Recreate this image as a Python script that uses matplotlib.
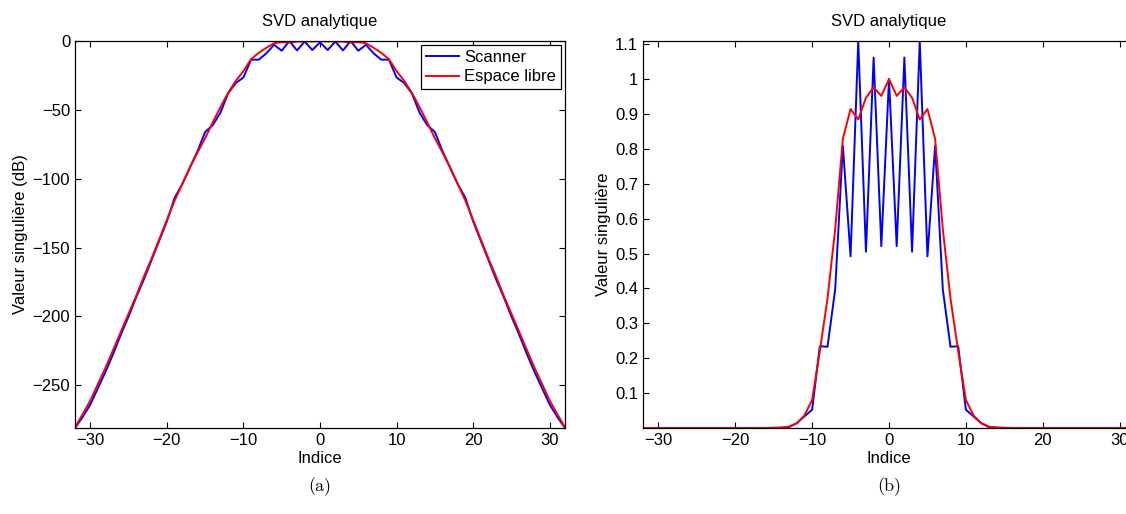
import matplotlib
matplotlib.use("Agg")
import matplotlib.pyplot as plt
import numpy as np

plt.rcParams['font.family'] = ['Liberation Sans', 'DejaVu Sans']
plt.rcParams['font.size'] = 12

# indices of the singular values
indices = list(range(-32, 33))

# Scanner, in dB (normalised to its own maximum)
scanner_db = [
    -281, -273, -264, -252, -240, -227, -213, -200, -186, -173, -159,
    -145, -131, -114, -104, -92, -80, -66, -61, -52, -38, -30.5,
    -26.5, -13.5, -13.56, -8.92, -2.74, -7.06, 0.0, -6.83, -0.38, -6.56,
    -0.90,
    -6.56, -0.38, -6.83, 0.0, -7.06, -2.74, -8.92, -13.56, -13.5, -26.5,
    -30.5, -38, -52, -61, -66, -80, -92, -104, -114, -131, -145,
    -159, -173, -186, -200, -213, -227, -240, -252, -264, -273, -281,
]

# Espace libre, in dB
libre_db = [
    -280.5, -271, -261, -249, -237, -224, -211, -198, -185, -171, -158,
    -144, -130, -116, -104, -92, -81, -70.5, -59, -48, -37.6, -28.9,
    -21.9, -13.15, -8.61, -4.88, -1.63, -0.78, -1.07, -0.48, -0.21, -0.43,
    0.0,
    -0.43, -0.21, -0.48, -1.07, -0.78, -1.63, -4.88, -8.61, -13.15, -21.9,
    -28.9, -37.6, -48, -59, -70.5, -81, -92, -104, -116, -130, -144,
    -158, -171, -185, -198, -211, -224, -237, -249, -261, -271, -280.5,
]

# peak of the linear singular values
scanner_peak = 1.109
libre_peak = 1.0

scanner_lin = scanner_peak * 10 ** (np.array(scanner_db) / 20.0)
libre_lin = libre_peak * 10 ** (np.array(libre_db) / 20.0)

fig = plt.figure(figsize=(11.26, 5.14), dpi=100)
ax1 = fig.add_axes([75 / 1126, 1 - 428 / 514, 490 / 1126, 387 / 514])
ax2 = fig.add_axes([643 / 1126, 1 - 428 / 514, 492 / 1126, 387 / 514])

for ax in (ax1, ax2):
    ax.tick_params(direction='in', top=True, right=True, length=4, width=0.8)
    for s in ax.spines.values():
        s.set_linewidth(0.9)

# (a) dB
ax1.plot(indices, scanner_db, color='#0000ff', lw=1.4, label='Scanner')
ax1.plot(indices, libre_db, color='#ff0000', lw=1.4, label='Espace libre')
ax1.set_xlim(-32, 32)
ax1.set_ylim(min(min(scanner_db), min(libre_db)), 0)
ax1.set_xticks(range(-30, 31, 10))
ax1.set_yticks(range(-250, 1, 50))
ax1.set_xlabel('Indice', labelpad=2)
ax1.set_ylabel('Valeur singulière (dB)', labelpad=3)
ax1.set_title('SVD analytique', fontsize=12, pad=11)
leg = ax1.legend(loc='upper right', fontsize=12, fancybox=False, framealpha=1,
                 edgecolor='black', borderaxespad=0.25, handlelength=2.0,
                 borderpad=0.3, labelspacing=0.25, handletextpad=0.3)
leg.get_frame().set_linewidth(0.9)

# (b) linear
ax2.plot(indices, scanner_lin, color='#0000ff', lw=1.4)
ax2.plot(indices, libre_lin, color='#ff0000', lw=1.4)
ax2.set_xlim(-32, 32)
ax2.set_ylim(0, max(scanner_lin.max(), libre_lin.max()))
ax2.set_xticks(range(-30, 31, 10))
ax2.set_yticks(np.round(np.arange(0.1, 1.11, 0.1), 1))
ax2.set_yticklabels(['0.1', '0.2', '0.3', '0.4', '0.5', '0.6', '0.7', '0.8', '0.9', '1', '1.1'])
ax2.set_xlabel('Indice', labelpad=2)
ax2.set_ylabel('Valeur singulière', labelpad=3)
ax2.set_title('SVD analytique', fontsize=12, pad=11)

fig.text(320 / 1126, 1 - 487 / 514, '(a)', ha='center', va='center',
         family=['cmr10', 'DejaVu Serif'], fontsize=13)
fig.text(889 / 1126, 1 - 487 / 514, '(b)', ha='center', va='center',
         family=['cmr10', 'DejaVu Serif'], fontsize=13)

fig.savefig('out.png', dpi=100)
